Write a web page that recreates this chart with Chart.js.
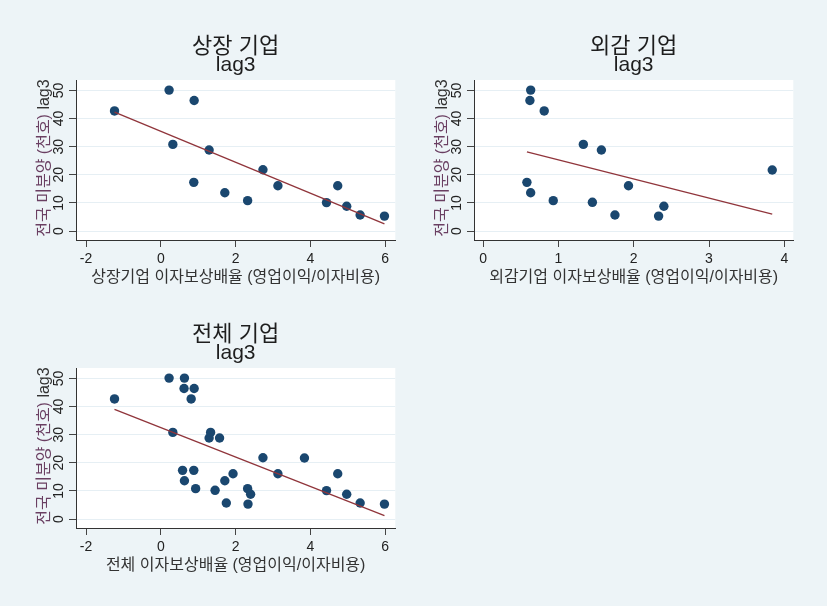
<!DOCTYPE html>
<html>
<head>
<meta charset="utf-8">
<script src="https://cdn.jsdelivr.net/npm/chart.js@4"></script>
<style>
  body { margin: 0; background: #edf4f7; width: 827px; height: 606px; overflow: hidden; position: relative; }
  canvas { position: absolute; }
</style>
</head>
<body>
<canvas id="listedChart" width="400" height="300" style="left:0;top:0;width:400px;height:300px"></canvas>
<canvas id="auditedChart" width="400" height="300" style="left:398px;top:0;width:400px;height:300px"></canvas>
<canvas id="totalChart" width="400" height="300" style="left:0;top:288px;width:400px;height:300px"></canvas>
<script>
// 상장 기업: 이자보상배율 vs 전국 미분양 (천호) lag3
const listedX = [-1.24, 0.22, 0.89, 0.32, 1.29, 0.88, 1.71, 2.32, 2.73, 3.13, 4.43, 4.73, 4.97, 5.33, 5.98];
const listedY = [42.7, 50.1, 46.4, 30.8, 28.8, 17.3, 13.6, 10.8, 21.8, 16.1, 10.1, 16.1, 8.8, 5.7, 5.3];
const listedFitX = [-1.24, 5.98];
const listedFitY = [42.3, 2.5];

// 외감 기업
const auditedX = [0.63, 0.62, 0.81, 1.33, 1.57, 3.84, 0.58, 0.63, 0.93, 1.93, 1.45, 1.75, 2.33, 2.40];
const auditedY = [50.1, 46.4, 42.7, 30.8, 28.8, 21.7, 17.3, 13.6, 10.8, 16.1, 10.2, 5.7, 5.3, 8.8];
const auditedFitX = [0.58, 3.84];
const auditedFitY = [28.1, 6.0];

// 전체 기업 = both groups pooled
const totalX = listedX.concat(auditedX);
const totalY = listedY.concat(auditedY);
const totalFitX = [-1.24, 5.98];
const totalFitY = [39.0, 1.2];

const wideXTicks = [-2, 0, 2, 4, 6];
const auditedXTicks = [0, 1, 2, 3, 4];
const yTicks = [0, 10, 20, 30, 40, 50];

const yTitleMain = '전국 미분양 (천호)';
const yTitleLag = 'lag3';

const FONT = '"Liberation Sans", "Noto Sans CJK KR", sans-serif';
const markerColor = '#1a476f';
const fitColor = '#90353b';

function toPoints(xs, ys) {
    return xs.map((x, i) => ({ x: x, y: ys[i] }));
}

const plotBackground = {
    id: 'plotBackground',
    beforeDraw(chart) {
        const { ctx, chartArea: a } = chart;
        ctx.save();
        ctx.fillStyle = '#ffffff';
        ctx.fillRect(a.left, a.top, a.right - a.left, a.bottom - a.top);
        ctx.restore();
    }
};

// Stata-style vertical y labels and two-tone y title
const yAxisText = {
    id: 'yAxisText',
    afterDraw(chart) {
        const { ctx, chartArea: a } = chart;
        const y = chart.scales.y;
        ctx.save();
        ctx.font = '14px ' + FONT;
        ctx.fillStyle = '#222';
        ctx.textAlign = 'center';
        ctx.textBaseline = 'middle';
        y.ticks.forEach(t => {
            const py = y.getPixelForValue(t.value);
            ctx.save();
            ctx.translate(59, py);
            ctx.rotate(-Math.PI / 2);
            ctx.fillText(String(t.value), 0, 0);
            ctx.restore();
        });

        ctx.font = '16px ' + FONT;
        const part2 = ' ' + yTitleLag;
        const wa = ctx.measureText(yTitleMain).width;
        const wb = ctx.measureText(part2).width;
        ctx.translate(45, (a.top + a.bottom) / 2 - 2);
        ctx.rotate(-Math.PI / 2);
        ctx.textAlign = 'left';
        ctx.fillStyle = '#6a3f62';
        ctx.fillText(yTitleMain, -(wa + wb) / 2, 0);
        ctx.fillStyle = '#333';
        ctx.fillText(part2, -(wa + wb) / 2 + wa, 0);
        ctx.restore();
    }
};

function makeChart(id, title, xTitle, xs, ys, fitXs, fitYs, xMin, xMax, xTicks) {
    const ctx = document.getElementById(id).getContext('2d');
    return new Chart(ctx, {
        type: 'scatter',
        data: {
            datasets: [
                {
                    type: 'line',
                    data: toPoints(fitXs, fitYs),
                    borderColor: fitColor,
                    borderWidth: 1.3,
                    pointRadius: 0,
                    fill: false,
                    order: 0
                },
                {
                    data: toPoints(xs, ys),
                    backgroundColor: markerColor,
                    borderWidth: 0,
                    pointRadius: 4.7,
                    order: 1
                }
            ]
        },
        options: {
            responsive: false,
            animation: false,
            layout: { padding: { left: 36, right: 3, top: 36, bottom: 13 } },
            plugins: {
                legend: { display: false },
                tooltip: { enabled: false },
                title: {
                    display: true, text: title, fullSize: false, color: '#1e1e1e', padding: 0,
                    font: { family: FONT, size: 22, weight: 'normal', lineHeight: 1 }
                },
                subtitle: {
                    display: true, text: 'lag3', fullSize: false, color: '#1e1e1e',
                    padding: { top: 0, bottom: 7.3 },
                    font: { family: FONT, size: 21, weight: 'normal', lineHeight: 0.7 }
                }
            },
            scales: {
                x: {
                    type: 'linear', min: xMin, max: xMax,
                    afterBuildTicks: s => { s.ticks = xTicks.map(v => ({ value: v })); },
                    afterFit: s => { s.height = 47; },
                    grid: { drawOnChartArea: false, drawTicks: true, tickLength: 7, tickColor: '#444' },
                    border: { display: true, color: '#333', width: 1 },
                    ticks: { font: { family: FONT, size: 14 }, color: '#222', padding: 4, maxRotation: 0, autoSkip: false },
                    title: { display: true, text: xTitle, color: '#333', padding: 0, font: { family: FONT, size: 16 } }
                },
                y: {
                    type: 'linear', min: -3.2, max: 53.7,
                    afterBuildTicks: s => { s.ticks = yTicks.map(v => ({ value: v })); },
                    afterFit: s => { s.width = 40; },
                    grid: { color: '#e6eff4', drawTicks: true, tickLength: 7, tickColor: '#444' },
                    border: { display: true, color: '#333', width: 1 },
                    ticks: { display: false }
                }
            }
        },
        plugins: [plotBackground, yAxisText]
    });
}

makeChart('listedChart', '상장 기업', '상장기업 이자보상배율 (영업이익/이자비용)',
    listedX, listedY, listedFitX, listedFitY, -2.27, 6.27, wideXTicks);
makeChart('auditedChart', '외감 기업', '외감기업 이자보상배율 (영업이익/이자비용)',
    auditedX, auditedY, auditedFitX, auditedFitY, -0.123, 4.12, auditedXTicks);
makeChart('totalChart', '전체 기업', '전체 이자보상배율 (영업이익/이자비용)',
    totalX, totalY, totalFitX, totalFitY, -2.27, 6.27, wideXTicks);
</script>
</body>
</html>
